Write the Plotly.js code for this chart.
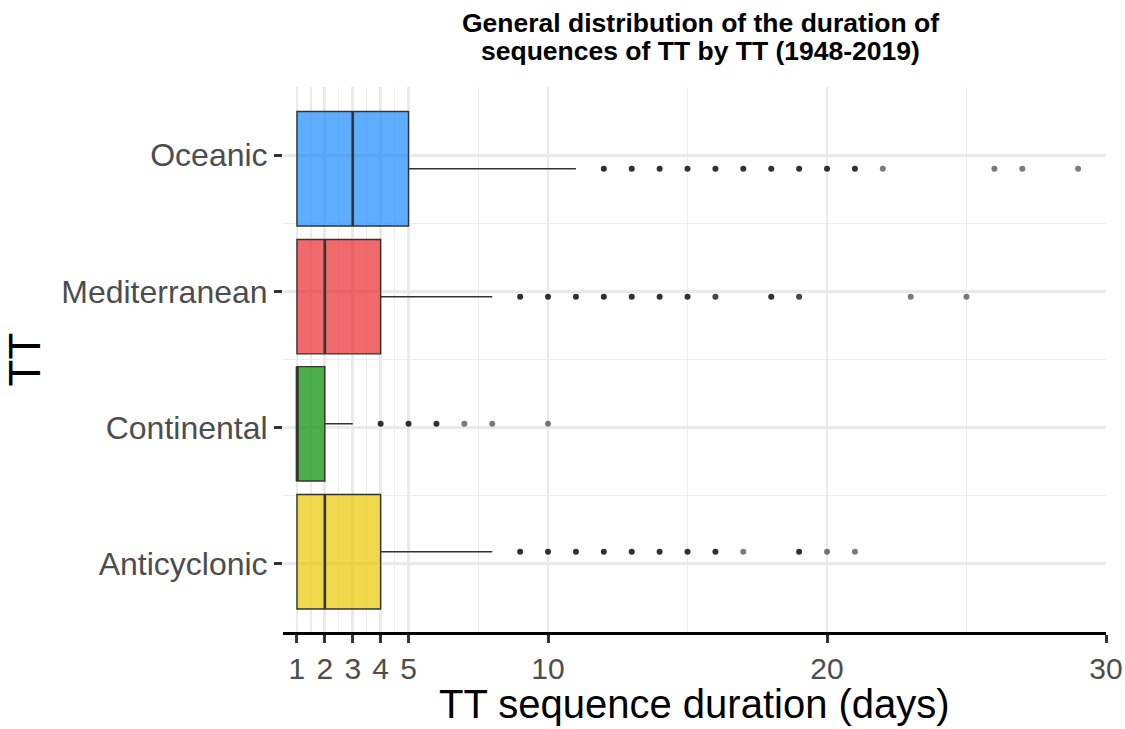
<!DOCTYPE html>
<html>
<head>
<meta charset="utf-8">
<script src="https://cdn.plot.ly/plotly-3.0.1.min.js"></script>
<style>html,body{margin:0;padding:0;background:#fff;}</style>
</head>
<body>
<div id="chart" style="width:1125px;height:729px;"></div>
<script>
// ---- data (bottom to top) ----
const categories = ['Anticyclonic', 'Continental', 'Mediterranean', 'Oceanic'];
const q1Values = [1, 1, 1, 1];
const medianValues = [2, 1, 2, 3];
const q3Values = [4, 2, 4, 5];
const lowerFence = [1, 1, 1, 1];
const upperFence = [8, 3, 8, 11];
const outliersAnticyclonic = [9, 10, 11, 12, 13, 14, 15, 16, 17, 19, 20, 21];
const countsAnticyclonic   = [3, 3, 3, 3, 3, 3, 3, 3, 1, 3, 1, 1];
const outliersContinental = [4, 5, 6, 7, 8, 10];
const countsContinental   = [3, 3, 3, 1, 1, 1];
const outliersMediterranean = [9, 10, 11, 12, 13, 14, 15, 16, 18, 19, 23, 25];
const countsMediterranean   = [3, 3, 3, 3, 3, 3, 3, 2, 3, 2, 1, 1];
const outliersOceanic = [12, 13, 14, 15, 16, 17, 18, 19, 20, 21, 22, 26, 27, 29];
const countsOceanic   = [3, 3, 3, 3, 3, 3, 3, 3, 3, 3, 1, 1, 1, 1];
const xTickVals = [1, 2, 3, 4, 5, 10, 20, 30];
const titleLines = ['General distribution of the duration of', 'sequences of TT by TT (1948-2019)'];
const xTitle = 'TT sequence duration (days)';
const yTitle = 'TT';

// ---- layout/style ----
const outliers = [outliersAnticyclonic, outliersContinental, outliersMediterranean, outliersOceanic];
const counts = [countsAnticyclonic, countsContinental, countsMediterranean, countsOceanic];
const boxPos = [1.089, 2.028, 2.961, 3.9];
const boxWidth = 0.84;
const fills = ['rgba(234,199,0,0.7)', 'rgba(0,141,0,0.7)', 'rgba(234,42,45,0.7)', 'rgba(25,138,255,0.7)'];
const FONT = 'Liberation Sans, Arial, Helvetica, sans-serif';
const PLOT_TOP = 87, PLOT_H = 545;
const pxToPaperY = px => (PLOT_TOP + PLOT_H - px) / PLOT_H;

const traces = [];
categories.forEach((c, i) => {
  traces.push({
    type: 'box', orientation: 'h', name: c,
    y: [boxPos[i]],
    q1: [q1Values[i]], median: [medianValues[i]], q3: [q3Values[i]],
    lowerfence: [lowerFence[i]], upperfence: [upperFence[i]],
    width: boxWidth, whiskerwidth: 0, boxpoints: false,
    fillcolor: fills[i], line: {color: '#333333', width: 1.4},
    hoverinfo: 'skip', showlegend: false
  });
});
categories.forEach((c, i) => {
  traces.push({
    type: 'scatter', mode: 'lines', showlegend: false, hoverinfo: 'skip',
    x: [medianValues[i], medianValues[i]],
    y: [boxPos[i] - boxWidth / 2, boxPos[i] + boxWidth / 2],
    line: {color: '#333333', width: 2.6}
  });
  traces.push({
    type: 'scatter', mode: 'markers', showlegend: false, hoverinfo: 'skip',
    x: outliers[i],
    y: outliers[i].map(() => boxPos[i]),
    marker: {size: 6, color: '#222222',
      opacity: counts[i].map(n => 1 - Math.pow(0.4, n)), line: {width: 0}}
  });
});

const layout = {
  width: 1125, height: 729,
  margin: {l: 283, r: 19, t: 87, b: 97},
  paper_bgcolor: '#ffffff', plot_bgcolor: '#ffffff',
  font: {family: FONT, color: '#4D4D4D'},
  annotations: [
    {text: '<b>' + titleLines[0] + '</b>', showarrow: false,
     font: {family: FONT, size: 26.5, color: '#000000'},
     xref: 'paper', x: (700 - 283) / 823, xanchor: 'center',
     yref: 'paper', y: pxToPaperY(23), yanchor: 'middle'},
    {text: '<b>' + titleLines[1] + '</b>', showarrow: false,
     font: {family: FONT, size: 26.5, color: '#000000'},
     xref: 'paper', x: (700 - 283) / 823, xanchor: 'center',
     yref: 'paper', y: pxToPaperY(51), yanchor: 'middle'},
    {text: xTitle, showarrow: false,
     font: {family: FONT, size: 40, color: '#000000'},
     xref: 'paper', x: 0.5, xanchor: 'center',
     yref: 'paper', y: pxToPaperY(704), yanchor: 'middle'}
  ],
  xaxis: {
    range: [0.5, 30], tickvals: xTickVals, ticktext: xTickVals.map(String),
    showgrid: true, gridcolor: '#EAEAEA', gridwidth: 2.8,
    zeroline: false, showline: true, linecolor: '#000000', linewidth: 3,
    ticks: 'outside', ticklen: 8, tickwidth: 3, tickcolor: '#333333',
    tickfont: {family: FONT, size: 30, color: '#4D4D4D'},
    minor: {tickvals: [0.5, 1.5, 2.5, 3.5, 4.5, 7.5, 15, 25], showgrid: true,
            gridcolor: '#EDEDED', gridwidth: 1.4, ticks: ''}
  },
  yaxis: {
    range: [0.5, 4.5], tickvals: [1, 2, 3, 4], ticktext: categories,
    showgrid: true, gridcolor: '#EAEAEA', gridwidth: 2.8,
    zeroline: false, showline: false,
    ticks: 'outside', ticklen: 8, tickwidth: 3, tickcolor: '#333333',
    tickfont: {family: FONT, size: 32, color: '#4D4D4D'},
    minor: {tickvals: [0.5, 1.5, 2.5, 3.5, 4.5], showgrid: true,
            gridcolor: '#EDEDED', gridwidth: 1.4, ticks: ''},
    title: {text: yTitle, standoff: 6,
            font: {family: FONT, size: 44, color: '#000000'}}
  }
};

Plotly.newPlot('chart', traces, layout, {staticPlot: true, displayModeBar: false});
</script>
</body>
</html>
